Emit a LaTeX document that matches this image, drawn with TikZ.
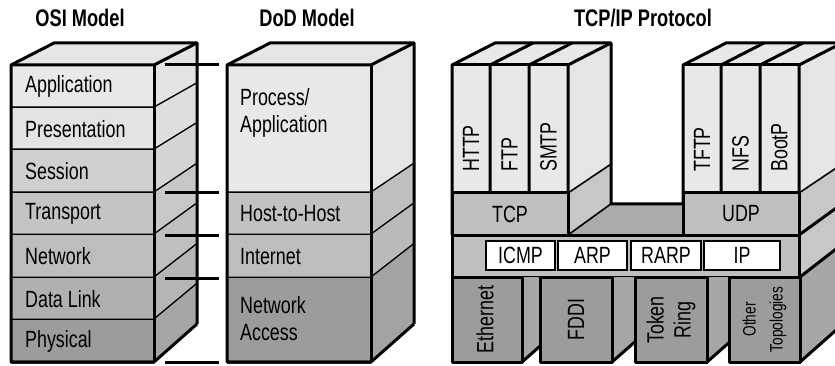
\documentclass[tikz,border=0pt]{standalone}
\usepackage{fontspec}
\setmainfont[FakeStretch=0.76]{Liberation Sans}
\usetikzlibrary{calc}
% back corner of a front point (slight perspective)
\newcommand{\bk}[2]{({#1+43},{#2-22-(#2-65)*0.054})}

\begin{document}
\begin{tikzpicture}[x=1pt, y=-1pt,
  edge/.style={line width=3pt, line join=round},
  thinedge/.style={line width=1.6pt, line join=round},
  lbl/.style={font=\fontsize{23.5}{27}\selectfont, inner sep=0pt},
  small/.style={font=\fontsize{18}{27}\selectfont, inner sep=0pt},
  ttl/.style={font=\fontsize{24}{27}\selectfont\bfseries, inner sep=0pt}]
\useasboundingbox (0,0) rectangle (835,366);
\clip (0,0) rectangle (835,366);

% titles
\node[ttl] (osi) at (80,18) {OSI Model};
\node[ttl] (dod) at (307,18) {DoD Model};
\node[ttl] (tcpip) at (643,18) {TCP/IP Protocol};

% OSI model
\fill[black!10] (11,65) -- \bk{11}{65} -- \bk{154}{65} -- (154,65) -- cycle;
\foreach \ya/\yb/\fc/\sc/\txt [count=\i] in {65/108/9/11/Application, 108/150/11/13/Presentation, 150/193/19/17/Session, 193/235/23/22/Transport, 235/278/26/25/Network, 278/320/31/29/Data Link, 320/362/39/35/Physical}{
  \fill[black!\fc] (11,\ya) rectangle (154,\yb);
  \fill[black!\sc] (154,\ya) -- \bk{154}{\ya} -- \bk{154}{\yb} -- (154,\yb) -- cycle;
  \draw[edge] (11,\yb) -- (154,\yb) -- \bk{154}{\yb};
  \node[lbl, anchor=west] (osi\i) at (25,{(\ya+\yb)/2}) {\txt};
}
\draw[edge] (154,362) -- (11,362) -- (11,65) -- \bk{11}{65} -- \bk{154}{65} -- \bk{154}{362};
\draw[edge] (11,65) -- (154,65) -- \bk{154}{65};
\draw[edge] (154,65) -- (154,362);

% layer borders shared by the two models
\foreach \y [count=\i] in {65,193,235,278,362}{
  \coordinate (ga\i) at (165,\y);
  \coordinate (gb\i) at (219,\y);
  \draw[edge] (ga\i) -- (gb\i);
}

% DoD model
\fill[black!10] (227,65) -- \bk{227}{65} -- \bk{371}{65} -- (371,65) -- cycle;
\foreach \ya/\yb/\fc/\sc [count=\i] in {65/193/9/10, 193/235/24/25, 235/278/26/27, 278/362/39/36}{
  \fill[black!\fc] (227,\ya) rectangle (371,\yb);
  \fill[black!\sc] (371,\ya) -- \bk{371}{\ya} -- \bk{371}{\yb} -- (371,\yb) -- cycle;
  \draw[edge] (227,\yb) -- (371,\yb) -- \bk{371}{\yb};
}
\draw[edge] (371,362) -- (227,362) -- (227,65) -- \bk{227}{65} -- \bk{371}{65} -- \bk{371}{362};
\draw[edge] (227,65) -- (371,65) -- \bk{371}{65};
\draw[edge] (371,65) -- (371,362);
\node[lbl, anchor=west, align=left] (dod1) at (240,113) {Process/\\Application};
\node[lbl, anchor=west] (dod2) at (240,214) {Host-to-Host};
\node[lbl, anchor=west] (dod3) at (240,256.5) {Internet};
\node[lbl, anchor=west, align=left] (dod4) at (240,319) {Network\\Access};

% TCP/IP: application columns with TCP and UDP below
\foreach \xa/\xb in {452/568, 683/799}{
  \fill[black!9] (\xa,65) -- \bk{\xa}{65} -- \bk{\xb}{65} -- (\xb,65) -- cycle;
  \fill[black!10] (\xb,65) -- \bk{\xb}{65} -- \bk{\xb}{193} -- (\xb,193) -- cycle;
  \fill[black!9] (\xa,65) rectangle (\xb,193);
  \fill[black!22] (\xb,193) -- \bk{\xb}{193} -- \bk{\xb}{235} -- (\xb,235) -- cycle;
  \fill[black!25] (\xa,193) rectangle (\xb,235);
  \draw[edge] (\xa,235) -- (\xa,65) -- \bk{\xa}{65} -- \bk{\xb}{65} -- \bk{\xb}{193};
  \draw[edge] (\xa,65) -- (\xb,65);
  \draw[edge] (\xa,193) rectangle (\xb,235);
  \draw[thinedge] (\xb,193) -- \bk{\xb}{193};
}
\foreach \x in {490,529,568,721,760,799}
  \draw[edge] (\x,193) -- (\x,65) -- \bk{\x}{65};
% floor between TCP and UDP
\fill[black!33] (568,235) -- \bk{568}{235} -- (683,203.8) -- (683,235) -- cycle;
\draw[edge] \bk{568}{193} -- \bk{568}{235} -- (683,203.8);
\draw[thinedge] (568,235) -- \bk{568}{235};
\draw[edge] (683,193) -- (683,235);

\foreach \x/\txt [count=\i] in {471/HTTP, 509.5/FTP, 548.5/SMTP, 702/TFTP, 740.5/NFS, 779.5/BootP}
  \node[lbl, rotate=90, anchor=west] (app\i) at (\x,172) {\txt};
\node[lbl] (tcp) at (510,214) {TCP};
\node[lbl] (udp) at (741,214) {UDP};

% internet layer
\fill[black!22] (799,235) -- \bk{799}{235} -- \bk{799}{277} -- (799,277) -- cycle;
\filldraw[edge, fill=black!25] (452,235) rectangle (799,277);
\draw[edge] (799,235) -- \bk{799}{235};
\foreach \xa/\xb/\txt [count=\i] in {486/555/ICMP, 558/627/ARP, 631/701/RARP, 704/780/IP}{
  \filldraw[line width=2pt, fill=white] (\xa,241) rectangle (\xb,270);
  \node[lbl] (ip\i) at ({(\xa+\xb)/2},255.5) {\txt};
}

% network access
\fill[black!35] (800,277) -- \bk{800}{277} -- \bk{800}{362} -- (800,362) -- cycle;
\draw[edge] (800,277) -- \bk{800}{277};
\draw[edge] (800,362) -- \bk{800}{362};
\foreach \xb/\xc in {522/540, 612/635, 707/729}{
  \fill[black!35] (\xb,277) -- (\xc,277) -- (\xc,{362-(\xc-\xb)*0.88}) -- (\xb,362) -- cycle;
  \draw[edge] (\xb,362) -- (\xc,{362-(\xc-\xb)*0.88});
}
\foreach \xa/\xb in {452/522, 540/612, 635/707, 729/800}
  \filldraw[edge, fill=black!39] (\xa,277) rectangle (\xb,362);
\node[lbl, rotate=90] (eth) at (485,319.5) {Ethernet};
\node[lbl, rotate=90] (fddi) at (576,319.5) {FDDI};
\node[lbl, rotate=90, align=center] (tok) at (671,320) {Token\\Ring};
\node[small, rotate=90, align=center] (oth) at (764.5,319.5) {Other\\Topologies};
\end{tikzpicture}
\end{document}
